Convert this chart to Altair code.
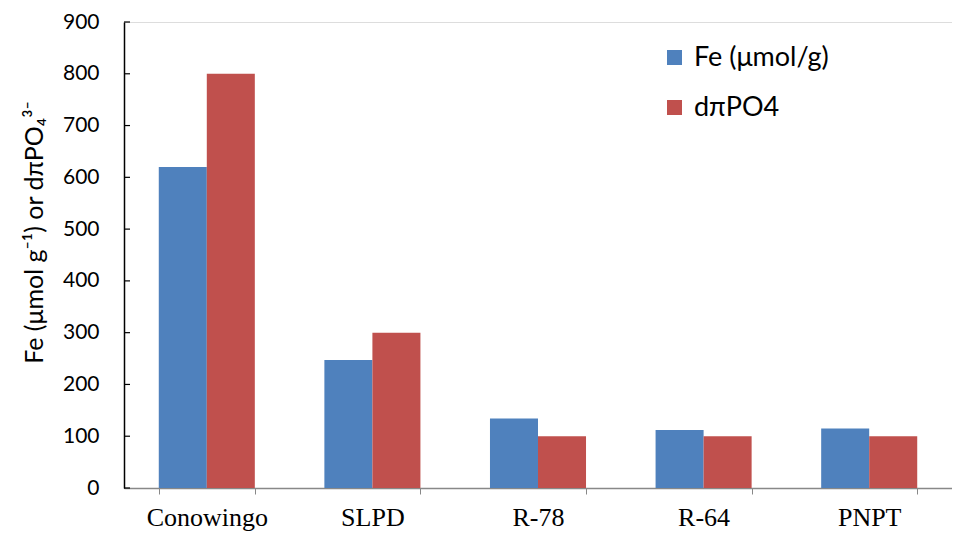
import altair as alt
import pandas as pd

sites = ["Conowingo", "SLPD", "R-78", "R-64", "PNPT"]
series = ["Fe (μmol/g)", "dπPO4"]
fe_values = [620, 247, 134, 112, 115]
po4_values = [800, 300, 100, 100, 100]
y_ticks = [0, 100, 200, 300, 400, 500, 600, 700, 800, 900]
colors = ["#4F81BD", "#C0504D"]

rows = []
for s, fe, po in zip(sites, fe_values, po4_values):
    rows.append({"site": s, "series": series[0], "value": fe})
    rows.append({"site": s, "series": series[1], "value": po})
df = pd.DataFrame(rows)
ticks_df = pd.DataFrame({"value": y_ticks})

y_axis = alt.Axis(values=y_ticks, grid=False, tickSize=0, labelPadding=25,
                  labelFont="Lato", labelFontSize=21, labelColor="black",
                  domainColor="black", domainWidth=1.5,
                  title="Fe (μmol g⁻¹) or dπPO₄³⁻", titleFont="Lato",
                  titleFontSize=25, titleFontWeight="normal", titleColor="black",
                  titleX=-77, titleY=210)
y_scale = alt.Scale(domain=[0, 900], nice=False)

bars = alt.Chart(df).mark_bar().encode(
    x=alt.X("site:N", sort=sites,
            scale=alt.Scale(paddingInner=0.42, paddingOuter=0.21),
            axis=alt.Axis(title=None, labelAngle=0, labelFont="Liberation Serif",
                          labelFontSize=26, labelColor="black", labelPadding=10,
                          tickBand="extent", tickSize=6, tickColor="#888888",
                          domainColor="#888888", domainWidth=1.5)),
    xOffset=alt.XOffset("series:N", sort=series,
                        scale=alt.Scale(paddingInner=0, paddingOuter=0)),
    y=alt.Y("value:Q", scale=y_scale, axis=y_axis),
    color=alt.Color("series:N", sort=series,
                    scale=alt.Scale(domain=series, range=colors),
                    legend=alt.Legend(title=None, orient="none", legendX=537, legendY=22,
                                      symbolType="square", symbolSize=225,
                                      symbolStrokeWidth=0, labelFont="Lato",
                                      labelFontSize=27, labelColor="black",
                                      labelOffset=6, rowPadding=22, padding=0)),
)

tick_marks = alt.Chart(ticks_df).mark_rule(color="black", strokeWidth=1.2).encode(
    y=alt.Y("value:Q", scale=y_scale, axis=y_axis),
    x=alt.value(0),
    x2=alt.value(6),
)

chart = alt.layer(bars, tick_marks).properties(
    width=828, height=466,
    autosize=alt.AutoSizeParams(type="none"),
    padding={"left": 116, "top": 14, "right": 0, "bottom": 45},
).configure_view(stroke=None).configure(background="white")

chart.save("out.html", embed_options={"renderer": "svg", "actions": False})
